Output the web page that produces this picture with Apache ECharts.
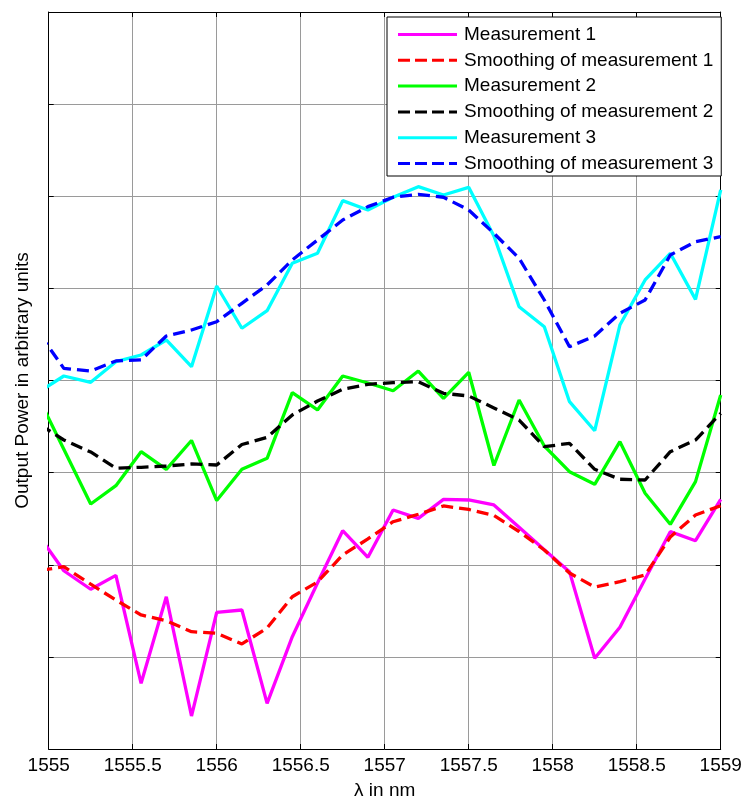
<!DOCTYPE html>
<html>
<head>
<meta charset="utf-8">
<script src="https://cdn.jsdelivr.net/npm/echarts@6/dist/echarts.min.js"></script>
<style>
  html, body { margin: 0; padding: 0; background: #fff; }
  #chart { width: 742px; height: 798px; }
</style>
</head>
<body>
<div id="chart"></div>
<script>
// Wavelength sample points (nm); the first lies just left of the visible range
const wavelength = [1554.95, 1555.09, 1555.25, 1555.40, 1555.55, 1555.70, 1555.85,
  1556.00, 1556.15, 1556.30, 1556.45, 1556.60, 1556.75, 1556.90, 1557.05,
  1557.20, 1557.35, 1557.50, 1557.65, 1557.80, 1557.95, 1558.10, 1558.25,
  1558.40, 1558.55, 1558.70, 1558.85, 1559.00];

// Output power, arbitrary units
const measurement1 = [2.294, 1.935, 1.734, 1.885, 0.713, 1.653, 0.358, 1.484, 1.509, 0.496,
  1.219, 1.802, 2.370, 2.081, 2.594, 2.504, 2.710, 2.703, 2.649, 2.407, 2.163, 1.925,
  0.985, 1.321, 1.846, 2.359, 2.261, 2.710];
const smoothing1 = [1.937, 1.979, 1.789, 1.617, 1.455, 1.393, 1.273, 1.256, 1.140, 1.313,
  1.653, 1.813, 2.106, 2.280, 2.467, 2.548, 2.638, 2.600, 2.535, 2.361, 2.160, 1.910,
  1.758, 1.816, 1.889, 2.301, 2.540, 2.641];
const measurement2 = [3.775, 3.254, 2.659, 2.858, 3.227, 3.036, 3.349, 2.697, 3.036, 3.155,
  3.868, 3.680, 4.049, 3.973, 3.889, 4.103, 3.807, 4.089, 3.077, 3.788, 3.289, 3.010,
  2.873, 3.336, 2.776, 2.439, 2.902, 3.843];
const smoothing2 = [3.517, 3.354, 3.224, 3.047, 3.058, 3.072, 3.094, 3.083, 3.305, 3.383,
  3.626, 3.777, 3.904, 3.959, 3.976, 3.987, 3.861, 3.832, 3.702, 3.571, 3.281, 3.318,
  3.036, 2.928, 2.920, 3.227, 3.354, 3.644];
const measurement3 = [3.886, 4.049, 3.980, 4.204, 4.277, 4.440, 4.150, 5.026, 4.567, 4.758,
  5.272, 5.381, 5.952, 5.851, 5.989, 6.104, 6.014, 6.097, 5.569, 4.801, 4.584, 3.770,
  3.455, 4.602, 5.091, 5.381, 4.881, 6.068];
const smoothing3 = [4.494, 4.132, 4.103, 4.212, 4.223, 4.483, 4.548, 4.638, 4.838, 5.037,
  5.308, 5.525, 5.742, 5.887, 5.989, 6.021, 5.989, 5.851, 5.598, 5.326, 4.874, 4.367,
  4.483, 4.729, 4.874, 5.362, 5.507, 5.561];

const seriesNames = ['Measurement 1', 'Smoothing of measurement 1', 'Measurement 2',
  'Smoothing of measurement 2', 'Measurement 3', 'Smoothing of measurement 3'];

const FONT = '"Liberation Sans", Arial, sans-serif';
const DASH = [12, 6];
const LINE_WIDTH = 3.3;

// Legend key glyphs: a solid bar and a dashed bar (stretched to itemWidth x itemHeight)
const SOLID_KEY = 'path://M0,0h59v3h-59z';
const DASHED_KEY = 'path://M0,0h12v3h-12zM17,0h12v3h-12zM34,0h12v3h-12zM51,0h8v3h-8z';

function pairs(values) {
  return wavelength.map((x, i) => [x, values[i]]);
}

function lineSeries(name, values, color, dashed) {
  return {
    name: name,
    type: 'line',
    data: pairs(values),
    symbol: 'none',
    clip: true,
    animation: false,
    lineStyle: { color: color, width: LINE_WIDTH, type: dashed ? DASH : 'solid' },
    itemStyle: { color: color }
  };
}

const chart = echarts.init(document.getElementById('chart'), null, { renderer: 'canvas' });

const boxAxis = {
  axisLine: { show: true, onZero: false, lineStyle: { color: '#000', width: 1 } },
  axisTick: { show: true, inside: true, length: 5, lineStyle: { color: '#000' } }
};

chart.setOption({
  backgroundColor: '#fff',
  animation: false,
  textStyle: { fontFamily: FONT },
  grid: { left: 48.7, right: 21.3, top: 12, bottom: 49, containLabel: false, outerBoundsMode: 'none' },
  legend: {
    data: seriesNames.map((n, i) => ({ name: n, icon: i % 2 === 0 ? SOLID_KEY : DASHED_KEY })),
    orient: 'vertical',
    left: 387,
    top: 17,
    padding: [8, 8, 3, 11],
    itemWidth: 59,
    itemHeight: 3,
    itemGap: 6.8,
    backgroundColor: '#fff',
    borderColor: '#000',
    borderWidth: 1,
    borderRadius: 0,
    itemStyle: { borderWidth: 0 },
    textStyle: { fontFamily: FONT, fontSize: 19, color: '#000', lineHeight: 19, padding: [0, 0, 0, 2] }
  },
  xAxis: [
    Object.assign({
      type: 'value', min: 1555, max: 1559, interval: 0.5, position: 'bottom',
      name: 'λ in nm', nameLocation: 'middle', nameGap: 32,
      nameTextStyle: { fontFamily: FONT, fontSize: 19, color: '#000' },
      axisLabel: { fontFamily: FONT, fontSize: 19, color: '#000', margin: 7,
        formatter: (v) => String(v) },
      splitLine: { show: true, lineStyle: { color: '#9a9a9a', width: 1 } }
    }, boxAxis),
    Object.assign({
      type: 'value', min: 1555, max: 1559, interval: 0.5, position: 'top',
      axisLabel: { show: false }, splitLine: { show: false }
    }, boxAxis)
  ],
  yAxis: [
    Object.assign({
      type: 'value', min: 0, max: 8, interval: 1, position: 'left',
      name: 'Output Power in arbitrary units', nameLocation: 'middle', nameGap: 16,
      nameTextStyle: { fontFamily: FONT, fontSize: 19, color: '#000' },
      axisLabel: { show: false },
      splitLine: { show: true, lineStyle: { color: '#9a9a9a', width: 1 } }
    }, boxAxis),
    Object.assign({
      type: 'value', min: 0, max: 8, interval: 1, position: 'right',
      axisLabel: { show: false }, splitLine: { show: false }
    }, boxAxis)
  ],
  series: [
    lineSeries(seriesNames[0], measurement1, '#ff00ff', false),
    lineSeries(seriesNames[1], smoothing1, '#ff0000', true),
    lineSeries(seriesNames[2], measurement2, '#00ff00', false),
    lineSeries(seriesNames[3], smoothing2, '#000000', true),
    lineSeries(seriesNames[4], measurement3, '#00ffff', false),
    lineSeries(seriesNames[5], smoothing3, '#0000ff', true)
  ]
});
</script>
</body>
</html>
